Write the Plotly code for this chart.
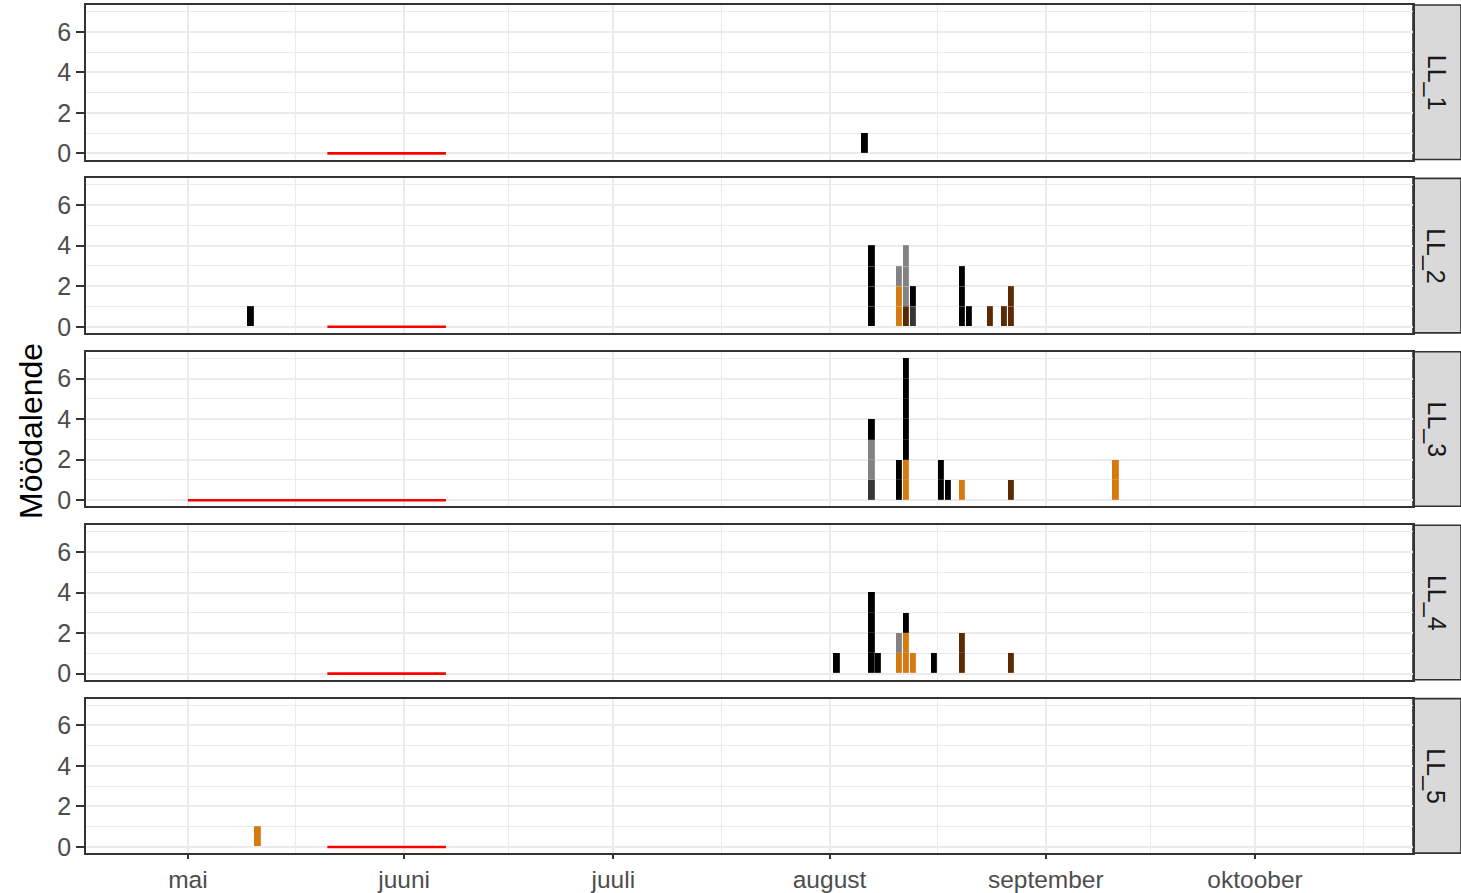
import plotly.graph_objects as go

# ---------------- data ----------------
SITES = ["LL_1", "LL_2", "LL_3", "LL_4", "LL_5"]

# stacking order bottom -> top
GROUPS = ["brown", "orange", "darkgrey", "grey", "black"]
GROUP_COLORS = ["#5B2A04", "#D67A10", "#363636", "#828282", "#000000"]

obs_site = ["LL_1",
            "LL_2", "LL_2", "LL_2", "LL_2", "LL_2", "LL_2", "LL_2", "LL_2", "LL_2", "LL_2", "LL_2", "LL_2", "LL_2",
            "LL_3", "LL_3", "LL_3", "LL_3", "LL_3", "LL_3", "LL_3", "LL_3", "LL_3", "LL_3", "LL_3",
            "LL_4", "LL_4", "LL_4", "LL_4", "LL_4", "LL_4", "LL_4", "LL_4", "LL_4", "LL_4", "LL_4",
            "LL_5"]
obs_date = ["2021-08-06",
            "2021-05-10", "2021-08-07", "2021-08-11", "2021-08-11", "2021-08-12", "2021-08-12", "2021-08-13",
            "2021-08-13", "2021-08-20", "2021-08-21", "2021-08-24", "2021-08-26", "2021-08-27",
            "2021-08-07", "2021-08-07", "2021-08-07", "2021-08-11", "2021-08-12", "2021-08-12", "2021-08-17",
            "2021-08-18", "2021-08-20", "2021-08-27", "2021-09-11",
            "2021-08-02", "2021-08-07", "2021-08-08", "2021-08-11", "2021-08-11", "2021-08-12", "2021-08-12",
            "2021-08-13", "2021-08-16", "2021-08-20", "2021-08-27",
            "2021-05-11"]
obs_group = ["black",
             "black", "black", "orange", "grey", "brown", "grey", "darkgrey",
             "black", "black", "black", "brown", "brown", "brown",
             "darkgrey", "grey", "black", "black", "orange", "black", "black",
             "black", "orange", "brown", "orange",
             "black", "black", "black", "orange", "grey", "orange", "black",
             "orange", "black", "brown", "brown",
             "orange"]
obs_count = [1,
             1, 4, 2, 1, 1, 3, 1, 1, 3, 1, 1, 1, 2,
             1, 2, 1, 2, 2, 5, 2, 1, 1, 1, 2,
             1, 4, 1, 1, 1, 2, 1, 1, 1, 2, 1,
             1]

# red period lines at y = 0
period_site = ["LL_1", "LL_2", "LL_3", "LL_4", "LL_5"]
period_start = ["2021-05-21", "2021-05-21", "2021-05-01", "2021-05-21", "2021-05-21"]
period_end = ["2021-06-07", "2021-06-07", "2021-06-07", "2021-06-07", "2021-06-07"]

MONTH_TICKS = ["2021-05-01", "2021-06-01", "2021-07-01", "2021-08-01", "2021-09-01", "2021-10-01"]
MONTH_LABELS = ["mai", "juuni", "juuli", "august", "september", "oktoober"]
MINOR_TICKS = ["2021-05-16 12:00", "2021-06-16", "2021-07-16 12:00", "2021-08-16 12:00",
               "2021-09-16", "2021-10-16 12:00"]
Y_TICKS = [0, 2, 4, 6]

# ---------------- layout geometry ----------------
W, H = 1461, 893
X_LEFT, X_RIGHT = 86, 1412.5
TOP0, STEP, PH = 5, 173.4, 154.5
X_RANGE = ["2021-04-16 09:30", "2021-10-23 14:00"]
Y_RANGE = [-0.3, 7.32]
DAY_MS = 86400000

FONT = "Liberation Sans, Arial, sans-serif"
TICK_SIZE = 25
GRID = "#EBEBEB"

fig = go.Figure()

for i, site in enumerate(SITES):
    xa = "x" if i == 0 else f"x{i+1}"
    ya = "y" if i == 0 else f"y{i+1}"
    # stacked unit bars
    for g, col in zip(GROUPS, GROUP_COLORS):
        idx = [k for k in range(len(obs_site)) if obs_site[k] == site and obs_group[k] == g]
        if not idx:
            continue
        maxc = max(obs_count[k] for k in idx)
        for u in range(1, maxc + 1):
            xs = [obs_date[k] for k in idx if obs_count[k] >= u]
            fig.add_trace(go.Bar(
                x=xs, y=[1] * len(xs), xaxis=xa, yaxis=ya,
                width=[0.9 * DAY_MS] * len(xs),
                marker=dict(color=col, line=dict(width=0.5, color="rgba(255,255,255,0.3)")),
                showlegend=False, hoverinfo="x+y"))
    # red period lines
    for s, a, b in zip(period_site, period_start, period_end):
        if s == site:
            fig.add_trace(go.Scatter(
                x=[a, b], y=[0, 0], xaxis=xa, yaxis=ya, mode="lines",
                line=dict(color="#FF0000", width=2.6), showlegend=False, hoverinfo="skip"))

    top = TOP0 + STEP * i
    bot = top + PH
    ydom = [1 - bot / H, 1 - top / H]
    last = i == len(SITES) - 1
    xkey = "xaxis" if i == 0 else f"xaxis{i+1}"
    ykey = "yaxis" if i == 0 else f"yaxis{i+1}"
    fig.update_layout({
        xkey: dict(
            domain=[X_LEFT / W, X_RIGHT / W], anchor=ya, type="date", range=X_RANGE,
            tickvals=MONTH_TICKS, ticktext=MONTH_LABELS, showticklabels=last,
            ticks="outside" if last else "", ticklen=4, tickwidth=1.6, tickcolor="#333333",
            tickfont=dict(family=FONT, size=24.5, color="#4D4D4D"),
            showgrid=True, gridcolor=GRID, gridwidth=1.8,
            minor=dict(tickvals=MINOR_TICKS, showgrid=True, gridcolor=GRID, gridwidth=1.1, ticks=""),
            showline=True, mirror=True, linecolor="#333333", linewidth=1.6,
            zeroline=False, fixedrange=True),
        ykey: dict(
            domain=ydom, anchor=xa, range=Y_RANGE, tickvals=Y_TICKS,
            ticks="outside", ticklen=8, tickwidth=1.6, tickcolor="#333333",
            tickfont=dict(family=FONT, size=TICK_SIZE, color="#4D4D4D"),
            showgrid=True, gridcolor=GRID, gridwidth=1.8,
            minor=dict(tickvals=[1, 3, 5, 7], showgrid=True, gridcolor=GRID, gridwidth=1.1, ticks=""),
            showline=True, mirror=True, linecolor="#333333", linewidth=1.6,
            zeroline=False, fixedrange=True),
    })
    # facet strip
    fig.add_shape(type="rect", xref="paper", yref="paper",
                  x0=1413 / W, x1=1461 / W, y0=ydom[0], y1=ydom[1],
                  fillcolor="#D9D9D9", line=dict(color="#333333", width=1.6), layer="below")
    fig.add_annotation(xref="paper", yref="paper", x=1436.5 / W, y=(ydom[0] + ydom[1]) / 2,
                       xanchor="center", yanchor="middle",
                       text=site, textangle=90, showarrow=False,
                       font=dict(family=FONT, size=TICK_SIZE, color="#1A1A1A"))

fig.add_annotation(xref="paper", yref="paper", x=31 / W, y=1 - 431 / H,
                   xanchor="center", yanchor="middle",
                   text="Möödalende", textangle=-90, showarrow=False,
                   font=dict(family=FONT, size=32, color="#000000"))

fig.update_layout(
    template="none", width=W, height=H, barmode="stack", bargap=0,
    margin=dict(l=0, r=0, t=0, b=0), paper_bgcolor="white", plot_bgcolor="white",
    showlegend=False, font=dict(family=FONT))

fig.write_html("out.html", config={"displayModeBar": False},
               post_script="document.body.style.margin='0';document.body.style.padding='0';")
